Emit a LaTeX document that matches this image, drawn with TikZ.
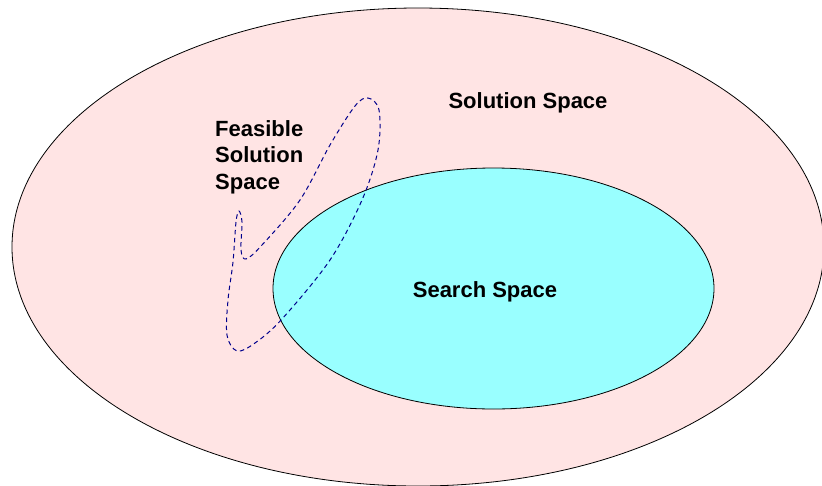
\documentclass[tikz,border=0pt]{standalone}
\usepackage{fontspec}
\setmainfont{Liberation Sans}
\begin{document}
\begin{tikzpicture}[x=1pt,y=-1pt,
  region/.style={draw=black,line width=0.8pt},
  label/.style={font=\fontsize{22}{26.5}\selectfont\bfseries,inner sep=0pt},
  feasible/.style={draw=blue!55!black,line width=1pt,dash pattern=on 4.5pt off 3.5pt}]
\useasboundingbox (0,0) rectangle (822,485);
\definecolor{solpink}{RGB}{255,228,228}
\definecolor{searchcyan}{RGB}{153,255,255}
% solution space and search space
\path[region,fill=solpink] (418,247) ellipse [x radius=406,y radius=239];
\path[region,fill=searchcyan] (493.5,288.5) ellipse [x radius=220.5,y radius=120.5];
% feasible region outline
\draw[feasible] plot[smooth cycle,tension=0.55] coordinates {
  (239,211) (236,222) (233,262) (228,300) (227,335) (237,351) (255,343) (282,319)
  (330,260) (362,200) (378,150) (379,110) (368,98) (355,106) (330,145)
  (300,200) (262,245) (246,259) (241,250) (242,222)};
% labels
\node[label,anchor=base west,align=left] (fss) at (215,189) {Feasible\\Solution\\Space};
\node[label] (ss) at (528,103) {Solution Space};
\node[label] (srch) at (485,292) {Search Space};
\end{tikzpicture}
\end{document}
